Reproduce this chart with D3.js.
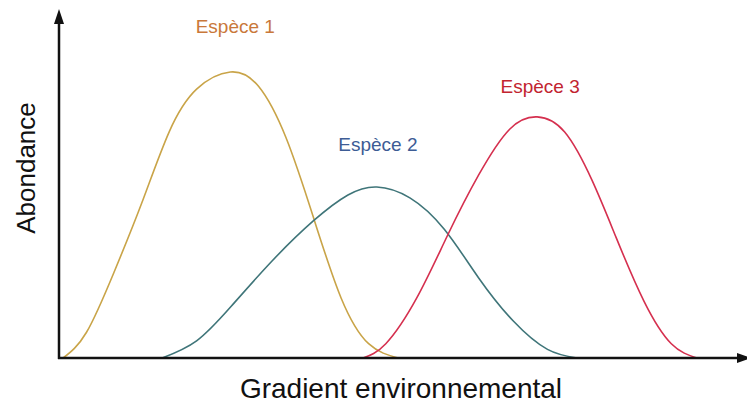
<!DOCTYPE html>
<html>
<head>
<meta charset="utf-8">
<script src="https://cdn.jsdelivr.net/npm/d3@7"></script>
<style>
    body { margin: 0; background: #fff; }
    text { font-family: "Liberation Sans", Arial, sans-serif; }
</style>
</head>
<body>
<svg class="chart"></svg>
<script>
// gradient position (0-100) and abundance (0-100)
var species = ["Espèce 1", "Espèce 2", "Espèce 3"];

var gradient1 = [0.6, 4, 8,  12, 16, 20, 24.9, 29, 33, 37, 41, 45, 49.3];
var abund1    = [0,   9, 30, 54, 79, 94, 100,  95, 77, 49, 21, 5,  0];

var gradient2 = [15.0, 20, 25, 31, 37, 42, 46.2, 51, 56, 61, 66, 71, 75.3];
var abund2    = [0,    6,  18, 34, 48, 57, 59.8, 56, 45, 28, 13, 3,  0];

var gradient3 = [44.2, 47.5, 52, 56.5, 61, 65.5, 69.5, 73.5, 77.5, 81, 85, 89, 92.7];
var abund3    = [0,    5,    21, 43,   64, 80,   84.3, 79,   62,   42, 20, 5,  0];

var curveColors = ["#c9a448", "#3f7579", "#d5304f"];
var labelColors = ["#c9783a", "#3d5c95", "#c2242f"];
var labelOffset = [[5, -39], [1, -36], [3, -24]]; // px from the peak

var width = 747, height = 405,
    left = 59, bottom = 358;

var svg = d3.select(".chart")
    .attr("width", width)
    .attr("height", height);

var x = d3.scaleLinear().domain([0, 100]).range([left, width]);
var y = d3.scaleLinear().domain([0, 100]).range([bottom, 72]);

var series = [
    d3.zip(gradient1, abund1),
    d3.zip(gradient2, abund2),
    d3.zip(gradient3, abund3)
];

var line = d3.line()
    .x(function(d) { return x(d[0]); })
    .y(function(d) { return y(d[1]); })
    .curve(d3.curveNatural);

svg.selectAll("path.curve")
    .data(series)
    .enter().append("path")
    .attr("class", "curve")
    .attr("fill", "none")
    .attr("stroke", function(d, i) { return curveColors[i]; })
    .attr("stroke-width", 1.6)
    .attr("d", line);

// species labels above each peak
svg.selectAll("text.label")
    .data(series)
    .enter().append("text")
    .attr("class", "label")
    .attr("text-anchor", "middle")
    .attr("font-size", 19)
    .attr("fill", function(d, i) { return labelColors[i]; })
    .attr("x", function(d, i) {
        var peak = d3.greatest(d, function(p) { return p[1]; });
        return x(peak[0]) + labelOffset[i][0];
    })
    .attr("y", function(d, i) {
        var peak = d3.greatest(d, function(p) { return p[1]; });
        return y(peak[1]) + labelOffset[i][1];
    })
    .text(function(d, i) { return species[i]; });

// axes with arrow heads
var axis = svg.append("g").attr("fill", "#111").attr("stroke", "#111");
axis.append("line")
    .attr("x1", left).attr("y1", bottom + 1)
    .attr("x2", left).attr("y2", 20)
    .attr("stroke-width", 2.5);
axis.append("path")
    .attr("stroke", "none")
    .attr("d", "M" + left + ",9L" + (left - 5) + ",24L" + (left + 5) + ",24Z");
axis.append("line")
    .attr("x1", left - 1).attr("y1", bottom)
    .attr("x2", width - 6).attr("y2", bottom)
    .attr("stroke-width", 2.5);
axis.append("path")
    .attr("stroke", "none")
    .attr("d", "M" + (width + 4) + "," + bottom + "L" + (width - 10) + "," + (bottom - 5) +
               "L" + (width - 10) + "," + (bottom + 5) + "Z");

svg.append("text")
    .attr("text-anchor", "middle")
    .attr("font-size", 28)
    .attr("fill", "#111")
    .attr("x", 401)
    .attr("y", 398)
    .text("Gradient environnemental");

svg.append("text")
    .attr("text-anchor", "middle")
    .attr("font-size", 26)
    .attr("fill", "#111")
    .attr("transform", "translate(35,168) rotate(-90)")
    .text("Abondance");
</script>
</body>
</html>
